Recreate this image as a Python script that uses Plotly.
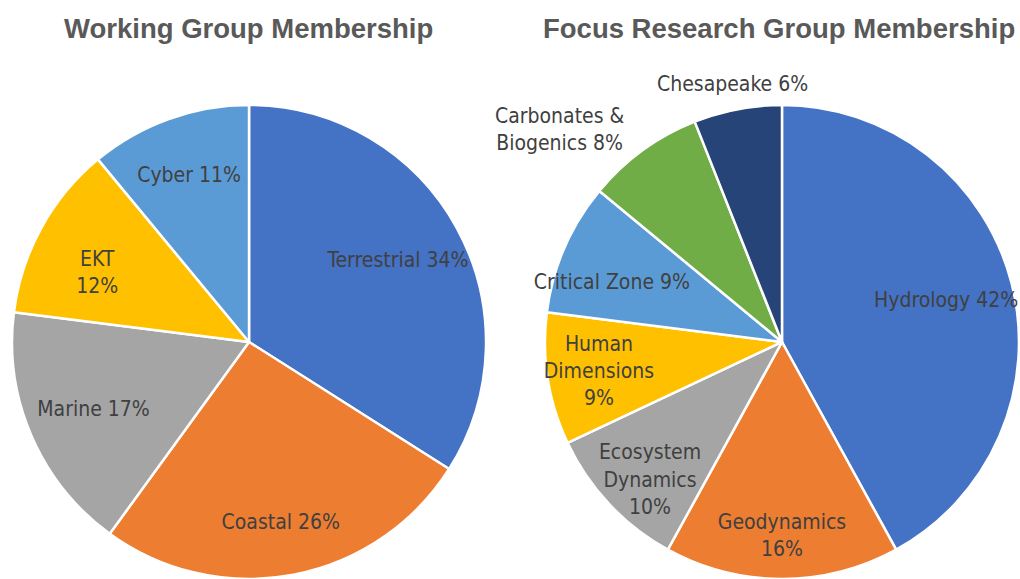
import math
import plotly.graph_objects as go

# Working groups (clockwise from 12 o'clock)
wg_labels = ['Terrestrial', 'Coastal', 'Marine', 'EKT', 'Cyber']
wg_text = ['Terrestrial ', '\u00a0<br>Coastal ', 'Marine ', '\u00a0<br>EKT<br>', 'Cyber ']
wg_values = [34, 26, 17, 12, 11]

# Focus research groups
frg_labels = ['Hydrology', 'Geodynamics', 'Ecosystem Dynamics', 'Human Dimensions',
              'Critical Zone', 'Carbonates & Biogenics', 'Chesapeake']
frg_text = ['Hydrology ', '\u00a0<br>Geodynamics<br>', '\u00a0<br>Ecosystem<br>Dynamics<br>',
            'Human<br>Dimensions<br>', '\u00a0<br>Critical Zone ', 'Carbonates &<br>Biogenics ', 'Chesapeake ']
frg_values = [42, 16, 10, 9, 9, 8, 6]

# labels drawn just outside the pie
frg_outside = ['Carbonates & Biogenics', 'Chesapeake']

colors = ['#4472C4', '#ED7D31', '#A5A5A5', '#FFC000', '#5B9BD5', '#70AD47', '#264478']
label_font = dict(family='DejaVu Sans Condensed, DejaVu Sans', size=21, color='#404040')

W, H = 1020, 579
left_dom = dict(x=[0.0118, 0.4765], y=[0, 0.8187])
right_dom = dict(x=[0.5343, 0.999], y=[0, 0.8187])

fig = go.Figure()


def add_pie(labels, values, text, cols, dom, outside=()):
    # coloured slices, no text
    fig.add_trace(go.Pie(
        labels=labels, values=values, textinfo='none',
        sort=False, direction='clockwise', rotation=0,
        marker=dict(colors=cols, line=dict(color='white', width=2.5)),
        domain=dom, showlegend=False, hoverinfo='label+percent'
    ))
    # transparent ring on top that carries the inside labels further out
    shown = ['' if l in outside else t for l, t in zip(labels, text)]
    tmpl = ['' if l in outside else '%{text}%{percent:.0%}' for l in labels]
    fig.add_trace(go.Pie(
        labels=labels, values=values, text=shown,
        texttemplate=tmpl,
        textposition='inside', insidetextorientation='horizontal',
        sort=False, direction='clockwise', rotation=0, hole=0.43,
        marker=dict(colors=['rgba(0,0,0,0)'] * len(labels), line=dict(width=0)),
        textfont=label_font, domain=dom, showlegend=False, hoverinfo='skip'
    ))
    # outside labels, placed on each slice's bisector
    total = sum(values)
    cx = sum(dom['x']) / 2
    cy = sum(dom['y']) / 2
    r_px = (dom['y'][1] - dom['y'][0]) * H / 2 * 1.11
    cum = 0
    for l, t, v in zip(labels, text, values):
        mid = (cum + v / 2) / total * 2 * math.pi
        cum += v
        if l not in outside:
            continue
        sx, sy = math.sin(mid), math.cos(mid)
        anchor = 'center' if abs(sx) < 0.3 else ('right' if sx < 0 else 'left')
        fig.add_annotation(
            text=f'{t}{round(100 * v / total)}%',
            x=cx + r_px * sx / W, y=cy + r_px * sy / H,
            xref='paper', yref='paper', xanchor=anchor, yanchor='middle',
            showarrow=False, font=label_font
        )


add_pie(wg_labels, wg_values, wg_text, colors[:5], left_dom)
add_pie(frg_labels, frg_values, frg_text, colors, right_dom, outside=frg_outside)

title_font = dict(family='Liberation Sans, Arial', size=27.5, color='#595959')
fig.add_annotation(text='<b>Working Group Membership</b>', x=0.2441, y=0.9516,
                   xanchor='center', yanchor='middle',
                   xref='paper', yref='paper', showarrow=False, font=title_font)
fig.add_annotation(text='<b>Focus Research Group Membership</b>', x=0.7637, y=0.9516,
                   xanchor='center', yanchor='middle',
                   xref='paper', yref='paper', showarrow=False, font=title_font)

fig.update_layout(
    width=W, height=H,
    margin=dict(l=0, r=0, t=0, b=0),
    paper_bgcolor='white',
    uniformtext=dict(minsize=21, mode='show'),
)

# drop the browser's default 8px body margin so the figure fills the window
fig.write_html('out.html', config={'displayModeBar': False},
               post_script="document.body.style.margin='0';")
